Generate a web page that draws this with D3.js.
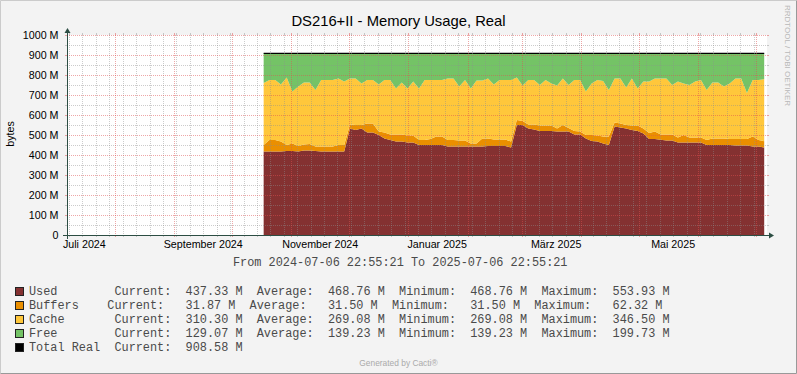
<!DOCTYPE html>
<html>
<head>
<meta charset="utf-8">
<script src="https://cdn.jsdelivr.net/npm/d3@7"></script>
<style>
  html, body { margin: 0; padding: 0; background: #f3f3f3; }
  svg { display: block; }
  .sans { font-family: 'Liberation Sans', Arial, sans-serif; }
  .mono { font-family: 'Liberation Mono', monospace; font-size: 11.86px; fill: #4a4a4a; white-space: pre; }
</style>
</head>
<body>
<svg id="chart" width="797" height="374"></svg>
<script>
// Samples every 3 days, values in MB
const firstSample = new Date(2024, 9, 17, 12, 0);
const stepDays = 3;

const used = [
  417, 417, 417, 417, 420, 420, 417, 422, 422, 420, 417, 417, 417, 417, 417, 533,
  525, 533, 513, 513, 500, 483, 475, 467, 467, 462, 462, 450, 450, 450, 450, 450,
  442, 442, 442, 442, 442, 442, 442, 445, 445, 445, 445, 437, 550, 550, 533, 527,
  520, 520, 520, 517, 517, 517, 503, 503, 483, 470, 467, 457, 450, 542, 538, 533,
  525, 520, 508, 480, 480, 476, 472, 472, 462, 462, 462, 462, 462, 450, 450, 450,
  450, 450, 447, 447, 447, 442, 442, 437.33,
];
const buffers = [
  33, 58, 58, 50, 30, 38, 28, 31, 33, 22, 25, 25, 25, 33, 33, 19,
  25, 17, 45, 45, 17, 30, 28, 36, 36, 35, 35, 25, 25, 30, 42, 42,
  33, 33, 30, 30, 16, 16, 41, 38, 33, 33, 33, 30, 25, 20, 20, 26,
  27, 27, 27, 16, 33, 18, 17, 15, 17, 30, 30, 35, 42, 21, 19, 17,
  22, 27, 25, 30, 37, 27, 31, 31, 25, 38, 25, 25, 25, 25, 33, 33,
  33, 30, 33, 33, 33, 50, 33, 31.87,
];
const cache = [
  310, 300, 300, 286, 338, 259, 297, 310, 308, 283, 333, 333, 333, 333, 317, 231,
  233, 208, 217, 217, 236, 262, 272, 230, 260, 236, 270, 258, 300, 295, 283, 283,
  308, 308, 270, 303, 275, 314, 289, 300, 275, 297, 297, 308, 213, 177, 222, 222,
  203, 228, 211, 214, 233, 215, 255, 257, 217, 258, 278, 278, 233, 220, 226, 187,
  236, 186, 234, 257, 266, 280, 280, 247, 280, 258, 263, 280, 288, 250, 280, 280,
  259, 278, 303, 303, 230, 283, 300, 310.30,
];
const free = [
  149, 134, 134, 156, 121, 192, 167, 146, 146, 184, 134, 134, 134, 126, 142, 126,
  126, 151, 134, 134, 156, 134, 134, 176, 146, 176, 142, 176, 134, 134, 134, 134,
  126, 126, 167, 134, 176, 137, 137, 126, 156, 134, 134, 134, 121, 162, 134, 134,
  159, 134, 151, 162, 126, 159, 134, 134, 192, 151, 134, 139, 184, 126, 126, 172,
  126, 176, 142, 142, 126, 126, 126, 159, 142, 151, 159, 142, 134, 184, 146, 146,
  167, 151, 126, 126, 199, 134, 134, 129.07,
];
const totalReal = 908.58;

const timeFrom = new Date(2024, 6, 6, 22, 55, 21);
const timeTo = new Date(2025, 6, 6, 22, 55, 21);

const yTicks = [0, 100, 200, 300, 400, 500, 600, 700, 800, 900, 1000];
const yMinor = [50, 150, 250, 350, 450, 550, 650, 750, 850, 950];
const xLabelDates = ['2024-07-16', '2024-09-16', '2024-11-16', '2025-01-16', '2025-03-19', '2025-05-19'];
const xLabelTexts = ['Juli 2024', 'September 2024', 'November 2024', 'Januar 2025', 'März 2025', 'Mai 2025'];

const seriesKeys = ['used', 'buffers', 'cache', 'free'];
const seriesColors = ['#843131', '#ea8f00', '#ffc73b', '#74c366', '#000000'];
const legendNames = ['Used        ', 'Buffers    ', 'Cache       ', 'Free        ', 'Total Real  '];
const legendCurrent = ['437.33 M', '31.87 M', '310.30 M', '129.07 M', '908.58 M'];
const legendAverage = ['468.76 M', '31.50 M', '269.08 M', '139.23 M', null];
const legendMinimum = ['468.76 M', '31.50 M', '269.08 M', '139.23 M', null];
const legendMaximum = ['553.93 M', '62.32 M', '346.50 M', '199.73 M', null];

const width = 797;
const height = 374;
const plot = { left: 67, right: 767, top: 35, bottom: 235 };
const axisColor = '#2c4d43';
const gridColor = 'rgba(143,143,143,0.45)';
const mgridColor = 'rgba(222,79,79,0.5)';

const svg = d3.select('#chart');

// Background and bevelled border
svg.append('rect')
  .attr('width', width)
  .attr('height', height)
  .attr('fill', '#f3f3f3');
svg.append('path')
  .attr('d', `M0.5,${height - 0.5}V0.5H${width - 0.5}`)
  .attr('fill', 'none')
  .attr('stroke', '#cbcbcb');
svg.append('path')
  .attr('d', `M0.5,${height - 0.5}H${width - 0.5}V0.5`)
  .attr('fill', 'none')
  .attr('stroke', '#999999');

// Canvas
svg.append('rect')
  .attr('x', plot.left)
  .attr('y', plot.top)
  .attr('width', plot.right - plot.left)
  .attr('height', plot.bottom - plot.top)
  .attr('fill', '#ffffff');

const x = d3.scaleTime()
  .domain([timeFrom, timeTo])
  .range([plot.left, plot.right]);

const y = d3.scaleLinear()
  .domain([0, 1000])
  .range([plot.bottom, plot.top]);

const snap = (v) => Math.round(v) + 0.5;

// Build rows and stack them
const rows = used.map((u, i) => ({
  date: d3.timeDay.offset(firstSample, i * stepDays),
  used: u,
  buffers: buffers[i],
  cache: cache[i],
  free: free[i],
}));

const stacked = d3.stack().keys(seriesKeys)(rows);

const area = d3.area()
  .x((d) => x(d.data.date))
  .y0((d) => y(d[0]))
  .y1((d) => y(d[1]));

svg.append('g')
  .selectAll('path')
  .data(stacked)
  .join('path')
  .attr('fill', (d, i) => seriesColors[i])
  .attr('d', area);

// Total Real line
svg.append('path')
  .datum(rows)
  .attr('fill', 'none')
  .attr('stroke', '#000')
  .attr('stroke-width', 1.3)
  .attr('d', d3.line()
    .x((d) => x(d.date))
    .y(() => y(totalReal)));

// Grid (drawn over the data, like rrdtool)
const grid = svg.append('g').attr('shape-rendering', 'crispEdges');

const monthStarts = d3.timeMonth.range(d3.timeMonth.ceil(timeFrom), timeTo);
const mondays = d3.timeMonday.range(timeFrom, timeTo)
  .filter((d) => !monthStarts.some((m) => Math.abs(m - d) < 864e5 / 2));

function vGrid(dates, color) {
  const g = grid.append('g');
  g.selectAll('line.dash')
    .data(dates)
    .join('line')
    .attr('class', 'dash')
    .attr('x1', (d) => snap(x(d)))
    .attr('x2', (d) => snap(x(d)))
    .attr('y1', plot.top)
    .attr('y2', plot.bottom)
    .attr('stroke', color)
    .attr('stroke-dasharray', '1,1');
  [[plot.top - 2, plot.top], [plot.bottom, plot.bottom + 2]].forEach(([a, b]) => {
    g.append('g')
      .selectAll('line')
      .data(dates)
      .join('line')
      .attr('x1', (d) => snap(x(d)))
      .attr('x2', (d) => snap(x(d)))
      .attr('y1', a)
      .attr('y2', b)
      .attr('stroke', color);
  });
}

function hGrid(values, color) {
  const g = grid.append('g');
  g.selectAll('line.dash')
    .data(values)
    .join('line')
    .attr('class', 'dash')
    .attr('x1', plot.left)
    .attr('x2', plot.right)
    .attr('y1', (d) => snap(y(d)))
    .attr('y2', (d) => snap(y(d)))
    .attr('stroke', color)
    .attr('stroke-dasharray', '1,1');
  [[plot.left - 2, plot.left], [plot.right, plot.right + 2]].forEach(([a, b]) => {
    g.append('g')
      .selectAll('line')
      .data(values)
      .join('line')
      .attr('x1', a)
      .attr('x2', b)
      .attr('y1', (d) => snap(y(d)))
      .attr('y2', (d) => snap(y(d)))
      .attr('stroke', color);
  });
}

vGrid(mondays, gridColor);
hGrid(yMinor, gridColor);
vGrid(monthStarts, mgridColor);
hGrid(yTicks.filter((v) => v > 0), mgridColor);

// Axes with arrows
const axes = svg.append('g').attr('shape-rendering', 'crispEdges');
axes.append('line')
  .attr('x1', plot.left - 4)
  .attr('x2', plot.right + 4)
  .attr('y1', snap(y(0)))
  .attr('y2', snap(y(0)))
  .attr('stroke', axisColor);
axes.append('line')
  .attr('x1', snap(plot.left))
  .attr('x2', snap(plot.left))
  .attr('y1', plot.bottom + 4)
  .attr('y2', plot.top - 4)
  .attr('stroke', axisColor);

const ax0 = snap(plot.left);
const ay0 = snap(plot.bottom);
svg.append('path')
  .attr('d', `M${plot.right + 2},${ay0 - 3}L${plot.right + 7},${ay0}L${plot.right + 2},${ay0 + 3}Z`)
  .attr('fill', axisColor);
svg.append('path')
  .attr('d', `M${ax0 - 3},${plot.top - 2}L${ax0},${plot.top - 7}L${ax0 + 3},${plot.top - 2}Z`)
  .attr('fill', axisColor);

// Y tick labels
svg.append('g')
  .attr('class', 'sans')
  .attr('font-size', '10.7px')
  .attr('text-anchor', 'end')
  .selectAll('text')
  .data(yTicks)
  .join('text')
  .attr('x', 58.5)
  .attr('y', (d) => y(d) + 3.9)
  .text((d) => (d === 0 ? '0' : `${d} M`));

// X labels
const parseDay = d3.timeParse('%Y-%m-%d');
svg.append('g')
  .attr('class', 'sans')
  .attr('font-size', '10.7px')
  .attr('text-anchor', 'middle')
  .selectAll('text')
  .data(xLabelDates)
  .join('text')
  .attr('x', (d) => x(parseDay(d)))
  .attr('y', 248)
  .text((d, i) => xLabelTexts[i]);

// Title, unit label, watermark
svg.append('text')
  .attr('class', 'sans')
  .attr('x', 398.5)
  .attr('y', 26)
  .attr('font-size', '14.8px')
  .attr('text-anchor', 'middle')
  .text('DS216+II - Memory Usage, Real');

svg.append('text')
  .attr('class', 'sans')
  .attr('transform', 'translate(13.5,134) rotate(-90)')
  .attr('font-size', '10.7px')
  .attr('text-anchor', 'middle')
  .text('bytes');

svg.append('text')
  .attr('class', 'sans')
  .attr('transform', 'translate(785,5) rotate(90)')
  .attr('font-size', '8px')
  .attr('fill', '#b8b8b8')
  .text('RRDTOOL / TOBI OETIKER');

svg.append('text')
  .attr('class', 'mono')
  .attr('x', 233)
  .attr('y', 266)
  .text(`From ${d3.timeFormat('%Y-%m-%d %H:%M:%S')(timeFrom)} To ${d3.timeFormat('%Y-%m-%d %H:%M:%S')(timeTo)}`);

// Legend
const stat = (label, v) => `${label}${v.padStart(10, ' ')}`;
const legend = svg.append('g');
legendNames.forEach((name, i) => {
  const base = 295 + i * 14;
  legend.append('rect')
    .attr('x', 15.5)
    .attr('y', base - 7.5)
    .attr('width', 8)
    .attr('height', 8)
    .attr('fill', seriesColors[i])
    .attr('stroke', '#222');
  const parts = [stat('Current:', legendCurrent[i])];
  if (legendAverage[i]) {
    parts.push(stat('Average:', legendAverage[i]));
    parts.push(stat('Minimum:', legendMinimum[i]));
    parts.push(stat('Maximum:', legendMaximum[i]));
  }
  legend.append('text')
    .attr('class', 'mono')
    .attr('x', 29)
    .attr('y', base)
    .text(name + parts.join('  '));
});

svg.append('text')
  .attr('class', 'sans')
  .attr('x', 398.5)
  .attr('y', 366)
  .attr('font-size', '8.4px')
  .attr('fill', '#aaaaaa')
  .attr('text-anchor', 'middle')
  .text('Generated by Cacti®');
</script>
</body>
</html>
